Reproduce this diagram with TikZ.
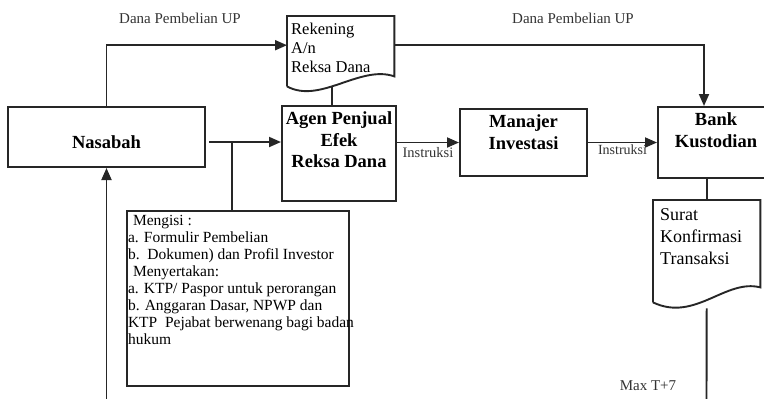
\documentclass[tikz,border=0pt]{standalone}
\usepackage{fontspec}
\setmainfont{Liberation Serif}
\usetikzlibrary{arrows.meta}

\tikzset{
  box/.style={draw=black!85, line width=2pt, rectangle},
  doc/.style={rectangle, anchor=north west, font=\fontsize{16.5}{19}\selectfont},
  arr/.style={draw=black!85, line width=1.9pt, -{Triangle[length=12pt,width=10pt]}},
  link/.style={draw=black!85, line width=1.9pt},
  lbl/.style={font=\fontsize{15}{17}\selectfont, inner sep=1pt, text=black!80},
  heading/.style={font=\fontsize{18.5}{21.5}\selectfont\bfseries},
}

\begin{document}
\begin{tikzpicture}[x=1pt, y=-1pt]
  \useasboundingbox (0,0) rectangle (764,399);

  % Draw the boxes
  \node[box, heading, minimum width=197pt, minimum height=60pt, text height=26pt, text depth=3pt] (nasabah) at (106.5,137) {Nasabah};
  \node[box, heading, anchor=north west, inner xsep=1pt, inner ysep=6pt] (agen) at (281,105)
    {\parbox[t][83pt][t]{112pt}{\centering Agen Penjual\\Efek\\Reksa Dana}};
  \node[box, heading, anchor=north west, inner xsep=1pt, inner ysep=6pt] (manajer) at (459,108)
    {\parbox[t][55pt][t]{125pt}{\centering Manajer\\Investasi}};
  \node[box, heading, anchor=north west, inner xsep=1pt, inner ysep=6pt] (bank) at (657,106)
    {\parbox[t][59pt][t]{114pt}{\centering Bank\\Kustodian}};

  % Draw the documents
  \node[doc, inner xsep=4pt, inner ysep=7pt] (rekening) at (287,16)
    {\parbox[t][50pt][t]{99pt}{\raggedright Rekening\\A/n\\Reksa Dana}};
  \draw[link] ([yshift=-6pt]rekening.south west) -- (rekening.north west) -- (rekening.north east)
    -- ([yshift=4pt]rekening.south east) .. controls +(-34pt,12pt) and +(33pt,-18pt) .. ([yshift=-6pt]rekening.south west);
  \node[doc, font=\fontsize{18}{22}\selectfont, inner xsep=7pt, inner ysep=8pt] (surat) at (653,200)
    {\parbox[t][86pt][t]{93pt}{\raggedright Surat\\Konfirmasi\\Transaksi}};
  \draw[link] (surat.south west) -- (surat.north west) -- (surat.north east)
    -- ([yshift=15pt]surat.south east) .. controls +(-35pt,9pt) and +(42pt,-20pt) .. (surat.south west);

  % Draw the requirements
  \node[box, anchor=north west, font=\fontsize{15.5}{17.1}\selectfont, inner xsep=1pt, inner ysep=4pt] (mengisi) at (126,210)
    {\parbox[t][167pt][t]{220pt}{\raggedright
      \hspace*{5pt}Mengisi :\\
      a. Formulir Pembelian\\
      b.\ \ Dokumen) dan Profil Investor\\
      \hspace*{5pt}Menyertakan:\\
      a. KTP/ Paspor untuk perorangan\\
      b. Anggaran Dasar, NPWP dan\\
      \mbox{KTP\ \ Pejabat berwenang bagi badan}\\
      hukum}};

  % Draw the labels
  \node[lbl] (danaleft) at (180,18) {Dana Pembelian UP};
  \node[lbl] (danaright) at (573,18) {Dana Pembelian UP};
  \node[lbl] (maxt) at (648,386) {Max T+7};

  % Draw the flows
  \coordinate (split) at (232,142);
  \coordinate (rekbottom) at ([xshift=-8.5pt,yshift=-6pt]rekening.south);
  \coordinate (inflow) at (106.5,402);
  \coordinate (outflow) at (706.5,402);
  \draw[arr] (nasabah.north) |- ([yshift=3pt]rekening.west);
  \draw[arr] ([yshift=3pt]rekening.east) -| ([xshift=-12pt]bank.north);
  \draw[link] (rekbottom) -- (rekbottom |- agen.north);
  \draw[arr] ([xshift=3pt,yshift=-5pt]nasabah.east) -- ([yshift=-5pt]nasabah.east -| agen.west);
  \draw[link] (split) -- (split |- mengisi.north);
  \draw[arr] (manajer.west -| agen.east) -- (manajer.west)
    node[lbl, font=\fontsize{14.5}{16}\selectfont, midway, below=3pt] (instr1) {Instruksi};
  \draw[arr] (manajer.east) -- (manajer.east -| bank.west)
    node[lbl, font=\fontsize{14}{16}\selectfont, midway, below] (instr2) {Instruksi};
  \draw[link] (bank.south -| surat.north) -- (surat.north);
  \draw[link] ([yshift=-6pt]surat.south) -- (outflow);
  \draw[arr] (inflow) -- (nasabah.south);
\end{tikzpicture}
\end{document}
